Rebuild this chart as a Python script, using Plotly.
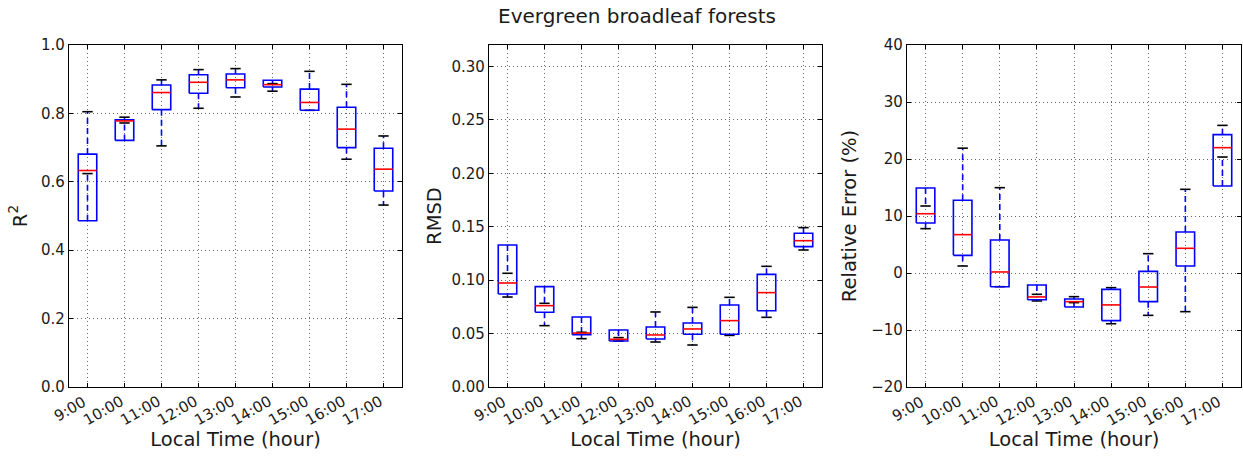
import plotly.graph_objects as go

hours = ["9:00", "10:00", "11:00", "12:00", "13:00", "14:00", "15:00", "16:00", "17:00"]

# R^2 panel: lower cap, q1, median, q3, upper cap
r2_low = [0.624, 0.772, 0.705, 0.815, 0.848, 0.865, 0.809, 0.666, 0.532]
r2_q1 = [0.486, 0.721, 0.811, 0.859, 0.875, 0.877, 0.809, 0.700, 0.573]
r2_med = [0.633, 0.778, 0.861, 0.891, 0.898, 0.884, 0.832, 0.754, 0.637]
r2_q3 = [0.681, 0.781, 0.883, 0.913, 0.915, 0.897, 0.871, 0.818, 0.698]
r2_up = [0.805, 0.789, 0.898, 0.928, 0.931, 0.887, 0.923, 0.885, 0.734]

# RMSD panel
rmsd_low = [0.0842, 0.0574, 0.0452, 0.0430, 0.0421, 0.0393, 0.0483, 0.0652, 0.1282]
rmsd_q1 = [0.0870, 0.0699, 0.0490, 0.0430, 0.0449, 0.0493, 0.0493, 0.0714, 0.1313]
rmsd_med = [0.0973, 0.0761, 0.0505, 0.0446, 0.0487, 0.0543, 0.0621, 0.0883, 0.1369]
rmsd_q3 = [0.1329, 0.0939, 0.0655, 0.0533, 0.0561, 0.0599, 0.0767, 0.1054, 0.1438]
rmsd_up = [0.1064, 0.0783, 0.0512, 0.0462, 0.0702, 0.0745, 0.0839, 0.1129, 0.1491]

# Relative error panel (%)
re_low = [7.78, 1.23, -2.4, -4.9, -5.2, -8.9, -7.43, -6.78, 20.35]
re_q1 = [8.77, 3.1, -2.4, -4.68, -5.96, -8.36, -5.03, 1.23, 15.26]
re_med = [10.4, 6.73, 0.18, -4.2, -5.03, -5.6, -2.46, 4.33, 21.99]
re_q3 = [14.9, 12.75, 5.79, -2.1, -4.56, -2.87, 0.29, 7.19, 24.27]
re_up = [11.75, 21.9, 14.97, -3.74, -4.15, -2.57, 3.39, 14.68, 25.9]

BW = 0.25  # half box width
CW = 0.14  # half cap width

fig = go.Figure()
TXT = "#1a1a1a"


def add_panel(idx, low, q1, med, q3, up):
    xa = "x" if idx == 1 else f"x{idx}"
    ya = "y" if idx == 1 else f"y{idx}"
    wx, wy, cx, cy, bx, by, mx, my = [], [], [], [], [], [], [], []
    for i in range(len(hours)):
        p = i + 1
        wx += [p, p, None, p, p, None]
        wy += [q3[i], up[i], None, q1[i], low[i], None]
        cx += [p - CW, p + CW, None, p - CW, p + CW, None]
        cy += [up[i], up[i], None, low[i], low[i], None]
        bx += [p - BW, p + BW, p + BW, p - BW, p - BW, None]
        by += [q1[i], q1[i], q3[i], q3[i], q1[i], None]
        mx += [p - BW, p + BW, None]
        my += [med[i], med[i], None]
    fig.add_trace(go.Scatter(x=wx, y=wy, mode="lines", xaxis=xa, yaxis=ya,
                             line=dict(color="blue", width=1.6, dash="6px,4px"), hoverinfo="skip"))
    fig.add_trace(go.Scatter(x=cx, y=cy, mode="lines", xaxis=xa, yaxis=ya,
                             line=dict(color="black", width=1.6), hoverinfo="skip"))
    fig.add_trace(go.Scatter(x=bx, y=by, mode="lines", xaxis=xa, yaxis=ya,
                             line=dict(color="blue", width=1.6), hoverinfo="skip"))
    fig.add_trace(go.Scatter(x=mx, y=my, mode="lines", xaxis=xa, yaxis=ya,
                             line=dict(color="red", width=1.6), hoverinfo="skip"))
    # rotated tick labels (matplotlib style: rotation 30, right aligned)
    for i, h in enumerate(hours):
        fig.add_annotation(text=h, x=i + 1, xref=xa, y=0, yref=f"{ya} domain",
                           xanchor="right", yanchor="top", textangle=-30, showarrow=False,
                           yshift=-4, xshift=3, borderpad=0, font=dict(size=15, color=TXT))


add_panel(1, r2_low, r2_q1, r2_med, r2_q3, r2_up)
add_panel(2, rmsd_low, rmsd_q1, rmsd_med, rmsd_q3, rmsd_up)
add_panel(3, re_low, re_q1, re_med, re_q3, re_up)

W, H = 1243, 456
ydom = [1 - 387 / H, 1 - 45 / H]
xdoms = [[69 / W, 402 / W], [489 / W, 822 / W], [907 / W, 1241 / W]]

font = "DejaVu Sans"
common_x = dict(range=[0.5, 9.5], tickmode="array", tickvals=list(range(1, 10)), ticktext=hours,
                showticklabels=False, automargin=False,
                showline=True, linecolor="black", linewidth=1.3, mirror="allticks",
                ticks="inside", ticklen=4, tickcolor="black", showgrid=True, gridcolor="#666",
                griddash="1px,3px", gridwidth=1, zeroline=False,
                title=dict(text="Local Time (hour)", font=dict(size=19.5, color=TXT), standoff=45))
common_y = dict(showline=True, linecolor="black", linewidth=1.3, mirror="allticks", ticks="inside",
                ticklen=4, tickcolor="black", showgrid=True, gridcolor="#666", griddash="1px,3px",
                gridwidth=1, zeroline=False, tickfont=dict(size=15, color=TXT), automargin=False)

layout = dict(width=W, height=H, margin=dict(l=0, r=0, t=0, b=0), showlegend=False,
              plot_bgcolor="white", paper_bgcolor="white", font=dict(family=font, color=TXT))
for k, (dom, ya) in enumerate(zip(xdoms, ["y", "y2", "y3"]), start=1):
    key = "xaxis" if k == 1 else f"xaxis{k}"
    layout[key] = dict(common_x, domain=dom, anchor=ya)

layout["yaxis"] = dict(common_y, domain=ydom, anchor="x", range=[0, 1], dtick=0.2, tickformat=".1f",
                       title=dict(text="R<sup>2</sup>", font=dict(size=19.5, color=TXT), standoff=8))
layout["yaxis2"] = dict(common_y, domain=ydom, anchor="x2", range=[0, 0.32], tick0=0, dtick=0.05,
                        tickformat=".2f", title=dict(text="RMSD", font=dict(size=19.5, color=TXT), standoff=4))
layout["yaxis3"] = dict(common_y, domain=ydom, anchor="x3", range=[-20, 40], dtick=10,
                        title=dict(text="Relative Error (%)", font=dict(size=19.5, color=TXT), standoff=9))

fig.update_layout(**layout)
fig.add_annotation(text="Evergreen broadleaf forests", xref="paper", yref="paper", x=637 / W, y=1 - 16 / H,
                   showarrow=False, font=dict(size=20, color=TXT), xanchor="center", yanchor="middle")

fig.write_html("out.html")
